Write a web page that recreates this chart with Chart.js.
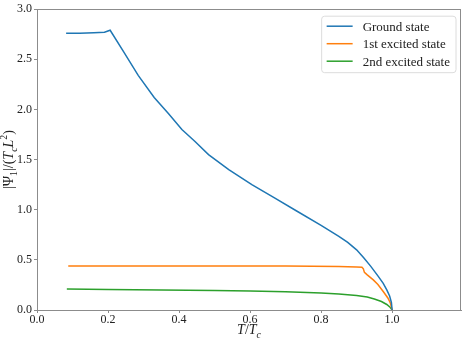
<!DOCTYPE html>
<html>
<head>
<meta charset="utf-8">
<script src="https://cdn.jsdelivr.net/npm/chart.js@4.4.1/dist/chart.umd.min.js"></script>
<style>
  html, body { margin: 0; padding: 0; background: #fff; }
  #c { display: block; }
</style>
</head>
<body>
<canvas id="c" width="463" height="338"></canvas>
<script>
// ---- data ----
const seriesLabels = ["Ground state", "1st excited state", "2nd excited state"];
const seriesColors = ["#1f77b4", "#ff7f0e", "#2ca02c"];

const tGround   = [0.082, 0.12, 0.16, 0.19, 0.206, 0.245, 0.285, 0.33, 0.37, 0.408, 0.445, 0.483, 0.54, 0.605, 0.67, 0.73, 0.80, 0.85, 0.875, 0.90, 0.92, 0.94, 0.96, 0.975, 0.985, 0.993, 0.998, 1.0];
const psiGround = [2.76, 2.76, 2.765, 2.77, 2.79, 2.57, 2.34, 2.12, 1.96, 1.80, 1.68, 1.55, 1.40, 1.25, 1.115, 0.99, 0.845, 0.735, 0.675, 0.60, 0.52, 0.435, 0.34, 0.265, 0.20, 0.14, 0.075, 0.0];

const tFirst    = [0.088, 0.3, 0.5, 0.7, 0.85, 0.9, 0.915, 0.919, 0.922, 0.93, 0.947, 0.96, 0.976, 0.988, 0.995, 1.0];
const psiFirst  = [0.44, 0.44, 0.44, 0.438, 0.435, 0.43, 0.427, 0.41, 0.375, 0.35, 0.30, 0.255, 0.18, 0.12, 0.07, 0.0];

const tSecond   = [0.084, 0.2, 0.35, 0.5, 0.6, 0.7, 0.8, 0.85, 0.9, 0.93, 0.95, 0.97, 0.985, 0.995, 1.0];
const psiSecond = [0.21, 0.205, 0.20, 0.195, 0.19, 0.182, 0.17, 0.16, 0.145, 0.13, 0.11, 0.085, 0.055, 0.025, 0.0];

const xMin = 0, xMax = 1.194, xStep = 0.2;
const yMin = 0, yMax = 3.0, yStep = 0.5;

const toPts = (xs, ys) => xs.map((x, i) => ({ x: x, y: ys[i] }));
const serif = "'Liberation Serif', 'Times New Roman', serif";
const axisColor = "#8c8c8c";

// draw frame (top/right spines too)
const framePlugin = {
  id: 'frame',
  afterDatasetsDraw(chart) {
    const { ctx, chartArea: a } = chart;
    ctx.save();
    ctx.strokeStyle = axisColor;
    ctx.lineWidth = 1;
    ctx.strokeRect(Math.round(a.left) + 0.5, Math.round(a.top) + 0.5, Math.round(a.right - a.left) - 1, Math.round(a.bottom - a.top));
    ctx.restore();
  }
};

// rich-text helper: segments [{t, style:'n'|'i', pos:'base'|'sub'|'sup'}]
function drawRich(ctx, segs, size) {
  let w = 0;
  const fontFor = s => {
    const sz = (s.pos === 'base') ? size : size * 0.7;
    return (s.style === 'i' ? 'italic ' : '') + sz + "px " + serif;
  };
  segs.forEach(s => { ctx.font = fontFor(s); w += ctx.measureText(s.t).width; });
  let x = -w / 2;
  segs.forEach(s => {
    ctx.font = fontFor(s);
    const dy = s.pos === 'sub' ? size * 0.25 : (s.pos === 'sup' ? -size * 0.4 : 0);
    ctx.fillText(s.t, x, dy);
    x += ctx.measureText(s.t).width;
  });
}

const titlesPlugin = {
  id: 'axisTitles',
  afterDraw(chart) {
    const { ctx, chartArea: a } = chart;
    ctx.save();
    ctx.fillStyle = "#222";
    ctx.textBaseline = "alphabetic";
    ctx.textAlign = "left";
    // x title
    ctx.save();
    ctx.translate((a.left + a.right) / 2, 334);
    drawRich(ctx, [
      { t: "T", style: 'i', pos: 'base' },
      { t: "/", style: 'n', pos: 'base' },
      { t: "T", style: 'i', pos: 'base' },
      { t: "c", style: 'i', pos: 'sub' }
    ], 14);
    ctx.restore();
    // y title
    ctx.save();
    ctx.translate(13, (a.top + a.bottom) / 2);
    ctx.rotate(-Math.PI / 2);
    drawRich(ctx, [
      { t: "|Ψ", style: 'n', pos: 'base' },
      { t: "1", style: 'n', pos: 'sub' },
      { t: "|/(", style: 'n', pos: 'base' },
      { t: "T", style: 'i', pos: 'base' },
      { t: "c", style: 'i', pos: 'sub' },
      { t: "L", style: 'i', pos: 'base' },
      { t: "2", style: 'n', pos: 'sup' },
      { t: ")", style: 'n', pos: 'base' }
    ], 14);
    ctx.restore();
    ctx.restore();
  }
};

const legendPlugin = {
  id: 'boxLegend',
  afterDraw(chart) {
    const { ctx, chartArea: a } = chart;
    const ds = chart.data.datasets;
    const fontSize = 13;
    ctx.save();
    ctx.font = fontSize + "px " + serif;
    let maxW = 0;
    ds.forEach(d => { maxW = Math.max(maxW, ctx.measureText(d.label).width); });
    const lineLen = 26, gap = 10, padX = 5, rowH = 17.5;
    const boxW = padX + lineLen + gap + maxW + 6;
    const boxH = rowH * ds.length + 4;
    const right = a.right - 5;
    const x0 = right - boxW, y0 = a.top + 7;
    ctx.beginPath();
    const r = 3;
    ctx.moveTo(x0 + r, y0);
    ctx.arcTo(x0 + boxW, y0, x0 + boxW, y0 + boxH, r);
    ctx.arcTo(x0 + boxW, y0 + boxH, x0, y0 + boxH, r);
    ctx.arcTo(x0, y0 + boxH, x0, y0, r);
    ctx.arcTo(x0, y0, x0 + boxW, y0, r);
    ctx.closePath();
    ctx.fillStyle = "rgba(255,255,255,0.85)";
    ctx.fill();
    ctx.strokeStyle = "#dcdcdc";
    ctx.lineWidth = 1;
    ctx.stroke();
    ds.forEach((d, i) => {
      const cy = y0 + 10 + i * rowH;
      ctx.beginPath();
      ctx.strokeStyle = d.borderColor;
      ctx.lineWidth = 1.5;
      ctx.moveTo(x0 + padX, cy);
      ctx.lineTo(x0 + padX + lineLen, cy);
      ctx.stroke();
      ctx.fillStyle = "#222";
      ctx.textBaseline = "middle";
      ctx.fillText(d.label, x0 + padX + lineLen + gap, cy + 1);
    });
    ctx.restore();
  }
};

const seriesX = [tGround, tFirst, tSecond];
const seriesY = [psiGround, psiFirst, psiSecond];

new Chart(document.getElementById('c'), {
  type: 'line',
  data: {
    datasets: seriesLabels.map((lab, i) => ({
      label: lab,
      data: toPts(seriesX[i], seriesY[i]),
      borderColor: seriesColors[i],
      backgroundColor: seriesColors[i],
      borderWidth: 1.5,
      pointRadius: 0,
      tension: 0,
      fill: false
    }))
  },
  options: {
    responsive: false,
    animation: false,
    devicePixelRatio: 1,
    layout: { padding: { top: 4, right: 2, left: 0, bottom: 0 } },
    plugins: { legend: { display: false }, tooltip: { enabled: false } },
    scales: {
      x: {
        type: 'linear',
        min: xMin, max: xMax,
        afterFit: s => { s.height = 28; },
        border: { color: axisColor, width: 1 },
        grid: { drawOnChartArea: false, drawTicks: true, tickLength: 3, color: axisColor },
        ticks: {
          stepSize: xStep, includeBounds: false, padding: 0, maxRotation: 0,
          color: "#222", font: { family: serif, size: 12 },
          callback: v => Number(v).toFixed(1)
        }
      },
      y: {
        type: 'linear',
        min: yMin, max: yMax,
        afterFit: s => { s.width = 37; },
        border: { color: axisColor, width: 1 },
        grid: { drawOnChartArea: false, drawTicks: true, tickLength: 3, color: axisColor },
        ticks: {
          stepSize: yStep, padding: 2,
          color: "#222", font: { family: serif, size: 12 },
          callback: v => Number(v).toFixed(1)
        }
      }
    }
  },
  plugins: [framePlugin, titlesPlugin, legendPlugin]
});
</script>
</body>
</html>
